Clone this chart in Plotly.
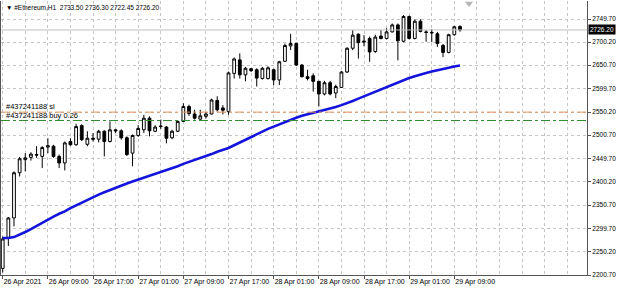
import plotly.graph_objects as go

symbol = "#Ethereum,H1"
open_ = [2215, 2280, 2323, 2420, 2448, 2453, 2459, 2455, 2475, 2477,
         2455, 2441, 2487, 2480, 2521, 2481, 2494, 2492, 2509, 2487,
         2512, 2510, 2495, 2462, 2500, 2512, 2537, 2509, 2519, 2518,
         2495, 2509, 2530, 2562, 2546, 2535, 2541, 2546, 2575, 2559,
         2551, 2633, 2662, 2630, 2643, 2641, 2622, 2622, 2641, 2619,
         2659, 2692, 2697, 2651, 2626, 2628, 2616, 2589, 2613, 2591,
         2603, 2636, 2687, 2717, 2700, 2708, 2680, 2713, 2708, 2722,
         2737, 2702, 2755, 2708, 2745, 2722, 2721, 2718, 2693, 2678,
         2716, 2733.50]
high = [2283, 2325, 2423, 2454, 2462, 2464, 2477, 2477, 2494, 2480,
        2459, 2487, 2494, 2525, 2524, 2509, 2505, 2512, 2511, 2530,
        2514, 2513, 2498, 2502, 2522, 2544, 2541, 2522, 2534, 2520,
        2512, 2532, 2569, 2566, 2555, 2555, 2550, 2579, 2584, 2565,
        2637, 2667, 2676, 2647, 2644, 2644, 2647, 2648, 2643, 2660,
        2697, 2718, 2699, 2653, 2641, 2633, 2617, 2617, 2617, 2609,
        2638, 2689, 2726, 2719, 2715, 2712, 2716, 2726, 2730, 2740,
        2740, 2758, 2757, 2749, 2749, 2726, 2728, 2722, 2696, 2718,
        2735, 2736.30]
low = [2206, 2263, 2305, 2412, 2423, 2446, 2452, 2430, 2462, 2452,
       2430, 2425, 2478, 2478, 2488, 2477, 2487, 2485, 2455, 2485,
       2505, 2491, 2456, 2434, 2497, 2505, 2498, 2507, 2514, 2483,
       2492, 2507, 2529, 2542, 2534, 2533, 2536, 2545, 2551, 2545,
       2544, 2622, 2622, 2616, 2636, 2605, 2620, 2620, 2608, 2608,
       2658, 2683, 2649, 2624, 2618, 2594, 2562, 2586, 2586, 2580,
       2602, 2634, 2683, 2665, 2691, 2658, 2677, 2706, 2706, 2721,
       2661, 2700, 2706, 2706, 2721, 2701, 2700, 2690, 2668, 2676,
       2714, 2722.45]
close = [2278, 2323, 2420, 2450, 2452, 2460, 2458, 2474, 2478, 2455,
         2441, 2484, 2480, 2519, 2491, 2494, 2492, 2509, 2487, 2512,
         2510, 2495, 2459, 2500, 2515, 2537, 2510, 2518, 2520, 2494,
         2509, 2530, 2562, 2547, 2537, 2542, 2546, 2576, 2555, 2554,
         2634, 2664, 2630, 2644, 2639, 2623, 2644, 2645, 2619, 2658,
         2693, 2697, 2651, 2626, 2622, 2616, 2589, 2613, 2589, 2605,
         2636, 2687, 2715, 2699, 2702, 2679, 2711, 2708, 2722, 2737,
         2703, 2755, 2708, 2745, 2723, 2721, 2720, 2697, 2678, 2716,
         2733, 2726.20]
ma = [2280, 2280, 2282, 2287, 2293, 2299, 2306, 2313, 2320, 2326,
      2332, 2337, 2344, 2350, 2355, 2361, 2368, 2373, 2378, 2383,
      2388, 2392, 2397, 2401, 2405, 2410, 2414, 2418, 2422, 2426,
      2430, 2434, 2439, 2443, 2447, 2452, 2456, 2460, 2465, 2469,
      2473, 2479, 2485, 2491, 2497, 2503, 2509, 2514, 2519, 2524,
      2529, 2534, 2538, 2542, 2545, 2548, 2551, 2554, 2557, 2561,
      2565, 2569, 2574, 2579, 2584, 2589, 2594, 2599, 2604, 2609,
      2614, 2619, 2623, 2627, 2631, 2634, 2637, 2640, 2642, 2645,
      2648, 2650]

x_tick_idx = [0, 8, 16, 24, 32, 40, 48, 56, 64, 72, 80]
x_tick_text = ["26 Apr 2021", "26 Apr 09:00", "26 Apr 17:00", "27 Apr 01:00",
               "27 Apr 09:00", "27 Apr 17:00", "28 Apr 01:00", "28 Apr 09:00",
               "28 Apr 17:00", "29 Apr 01:00", "29 Apr 09:00"]
y_tick_vals = [2200.70, 2250.20, 2299.70, 2350.70, 2400.20, 2449.70,
               2500.70, 2550.20, 2599.70, 2650.70, 2700.20, 2749.70]
y_tick_text = ["%.2f" % v for v in y_tick_vals]

order_id = "437241188"
lot = 0.26
sl_price = 2550.0
buy_price = 2532.0

bars = list(range(len(open_)))
FONT = "Liberation Sans"
GRID = "#c4c4c4"

fig = go.Figure()
fig.add_trace(go.Candlestick(
    x=bars, open=open_, high=high, low=low, close=close,
    increasing=dict(line=dict(color="black", width=1), fillcolor="white"),
    decreasing=dict(line=dict(color="black", width=1), fillcolor="black"),
    whiskerwidth=0, showlegend=False, hoverinfo="skip"))
fig.add_trace(go.Scatter(
    x=bars, y=ma, mode="lines", line=dict(color="#1414dc", width=2.6),
    showlegend=False, hoverinfo="skip"))
# chart shift marker
fig.add_trace(go.Scatter(
    x=[82.6], y=[2783], mode="markers",
    marker=dict(symbol="triangle-down", size=7, color="#b4b4b4"),
    cliponaxis=False, showlegend=False, hoverinfo="skip"))

# bid line
fig.add_shape(type="line", xref="paper", x0=0, x1=1, yref="y",
              y0=close[-1], y1=close[-1], line=dict(color="#c0c0c0", width=1))
# order lines
fig.add_shape(type="line", xref="paper", x0=0, x1=1, yref="y",
              y0=sl_price, y1=sl_price,
              line=dict(color="#e3935c", width=1, dash="dashdot"))
fig.add_shape(type="line", xref="paper", x0=0, x1=1, yref="y",
              y0=buy_price, y1=buy_price,
              line=dict(color="#2f8f2f", width=1, dash="dashdot"))

fig.add_annotation(xref="paper", yref="y", x=0, y=sl_price, xanchor="left",
                   yanchor="bottom", xshift=3, yshift=-1, showarrow=False,
                   text="#%s sl" % order_id,
                   font=dict(family=FONT, size=7.5, color="black"))
fig.add_annotation(xref="paper", yref="y", x=0, y=buy_price, xanchor="left",
                   yanchor="bottom", xshift=3, yshift=-1, showarrow=False,
                   text="#%s buy %.2f" % (order_id, lot),
                   font=dict(family=FONT, size=7.5, color="black"))

# header
fig.add_annotation(xref="paper", yref="paper", x=0, y=1, xanchor="left",
                   yanchor="top", xshift=3, yshift=-1, showarrow=False,
                   text="▼ %s  %.2f %.2f %.2f %.2f" % (symbol, open_[-1], high[-1], low[-1], close[-1]),
                   font=dict(family=FONT, size=6.5, color="black"))
# current price box
fig.add_annotation(xref="paper", yref="y", x=1, y=close[-1], xanchor="left",
                   yanchor="middle", xshift=1, showarrow=False,
                   text="%.2f" % close[-1], bgcolor="black", borderpad=1,
                   font=dict(family=FONT, size=6.5, color="white"))

fig.update_layout(
    width=620, height=290,
    margin=dict(l=1, r=33, t=1, b=15, autoexpand=False),
    paper_bgcolor="white", plot_bgcolor="white",
    font=dict(family=FONT, size=7, color="black"),
    showlegend=False,
    boxgap=0.3,
)
fig.update_xaxes(
    type="linear", range=[-0.3, 103.5], automargin=False,
    rangeslider=dict(visible=False),
    tickmode="array", tickvals=x_tick_idx, ticktext=x_tick_text,
    tickangle=0,
    ticks="outside", ticklen=3, tickcolor="#555555",
    ticklabelposition="outside right",
    tickfont=dict(family=FONT, size=7, color="black"),
    showgrid=True, gridcolor=GRID, griddash="dot", gridwidth=1,
    minor=dict(tickmode="linear", tick0=0, dtick=4, showgrid=True,
               gridcolor=GRID, griddash="dot", ticks=""),
    showline=True, linecolor="#555555", linewidth=1, mirror=False,
    zeroline=False, fixedrange=True)
fig.update_yaxes(
    side="right", range=[2200.7, 2788.3], automargin=False,
    tickmode="array", tickvals=y_tick_vals, ticktext=y_tick_text,
    ticks="outside", ticklen=3, tickcolor="#555555",
    tickfont=dict(family=FONT, size=6.5, color="black"),
    showgrid=True, gridcolor=GRID, griddash="dot", gridwidth=1,
    showline=True, linecolor="#555555", linewidth=1, mirror=True,
    zeroline=False, fixedrange=True)

fig.write_html("out.html")
